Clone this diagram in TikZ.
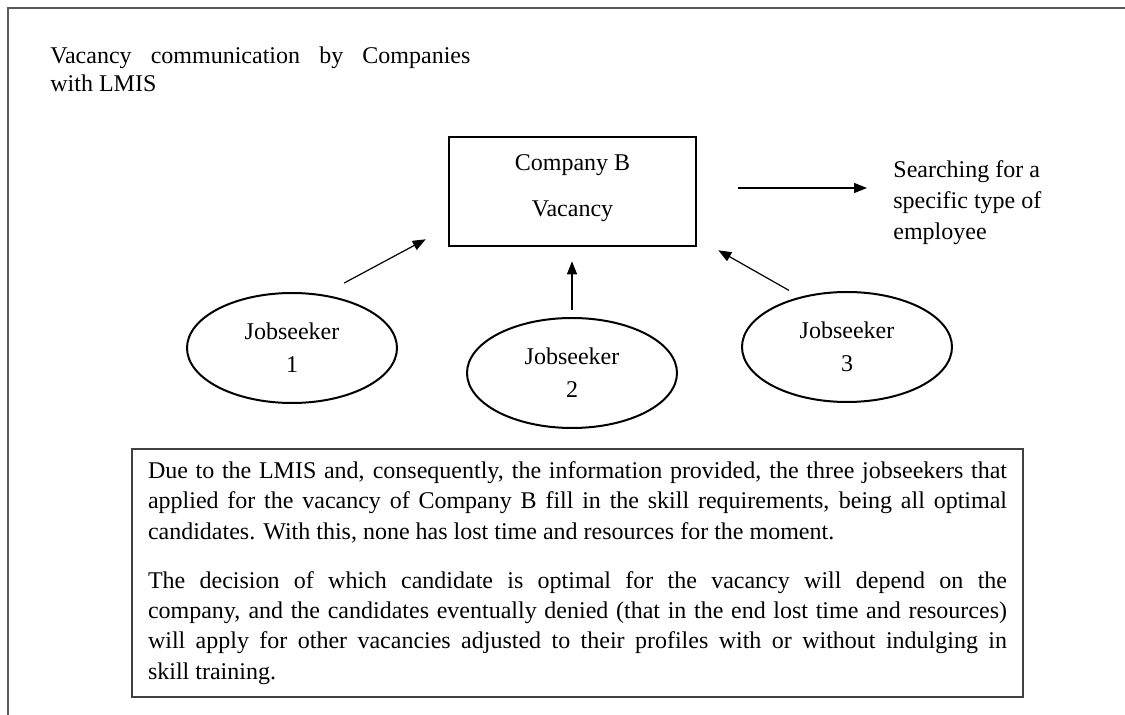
\documentclass[tikz,border=0pt]{standalone}
\usepackage{fontspec}
\setmainfont{Liberation Serif}
\usepackage{tikz}
\usetikzlibrary{shapes.geometric,arrows.meta}
\definecolor{FrameGray}{HTML}{5A5A5A}

\begin{document}
\begin{tikzpicture}[x=0.5pt, y=-0.5pt,
  every node/.style={font=\fontsize{12pt}{15.15pt}\selectfont, inner sep=0pt},
  company/.style={draw, line width=1.3pt, minimum width=123.5pt, minimum height=54.5pt, align=center},
  seeker/.style ={draw, ellipse, line width=1pt, minimum width=105pt, minimum height=55pt,
                  align=center, font=\fontsize{12pt}{16.5pt}\selectfont},
  note/.style   ={draw=black!75, line width=0.8pt, text width=429.5pt, inner xsep=8pt,
                  minimum height=124pt, align=justify},
  arrow/.style  ={-{Triangle[length=6.5pt,width=5pt]}, line width=0.6pt},
]
\useasboundingbox (0,0) rectangle (1125,715);
\draw[FrameGray, line width=0.8pt] (8,715) -- (8,8) -- (1125,8);

\node[anchor=north west, text width=210pt, align=justify,
      font=\fontsize{12pt}{14pt}\selectfont] (title) at (50,46)
     {Vacancy communication by Companies\linebreak with LMIS};
\node[company] (box) at (572.5,191.5) {Company B\\[7.85pt]Vacancy\\[-9pt]};
\node[anchor=west, align=left, font=\fontsize{12pt}{15.5pt}\selectfont]
     (search) at (893,202.5) {Searching for a\\specific type of\\employee};
\node[seeker] (js1) at (292,348) {Jobseeker\\1};
\node[seeker] (js2) at (572,373) {Jobseeker\\2};
\node[seeker] (js3) at (847,347) {Jobseeker\\3};
\node[note] (info) at (577.5,573)
     {\parskip=9.5pt\relax\parindent=0pt\relax\hyphenpenalty=10000\relax
      Due to the LMIS and, consequently, the information provided, the three jobseekers that\linebreak
      applied for the vacancy of Company B fill in the skill requirements, being all optimal\linebreak
      candidates. With this, none has lost time and resources for the moment.\par
      The decision of which candidate is optimal for the vacancy will depend on the\linebreak
      company, and the candidates eventually denied (that in the end lost time and resources)\linebreak
      will apply for other vacancies adjusted to their profiles with or without indulging in\linebreak
      skill training.};

\draw[arrow, shorten <=20.5pt, shorten >=13pt]
     ([yshift=1.75pt]box.east) -- ([yshift=1.75pt]box.east -| search.west);
\draw[arrow, shorten <=12pt] (js1.60) -- ([xshift=-11pt,yshift=4pt]box.south west);
\draw[arrow, shorten <=3.5pt, shorten >=7pt] (js2.north) -- (js2.north |- box.south);
\draw[arrow, shorten <=6.5pt] (js3.133) -- ([xshift=10.5pt,yshift=-1.5pt]box.south east);
\end{tikzpicture}
\end{document}
